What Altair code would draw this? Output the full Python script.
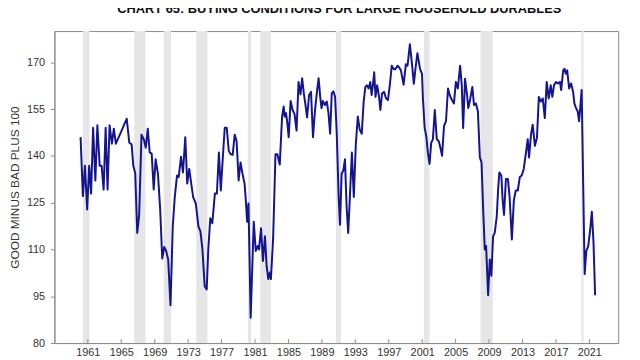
import altair as alt
import pandas as pd

title_text = "CHART 65: BUYING CONDITIONS FOR LARGE HOUSEHOLD DURABLES"
y_title = "GOOD MINUS BAD PLUS 100"

years = [
    1960.13, 1960.41, 1960.65, 1960.92, 1961.16, 1961.39, 1961.63, 1961.90, 1962.14, 1962.42,
    1962.65, 1962.89, 1963.13, 1963.36, 1963.60, 1963.88, 1964.11, 1964.35, 1964.90, 1965.65,
    1965.96, 1966.24, 1966.44, 1966.67, 1966.91, 1967.14, 1967.42, 1967.70, 1967.93, 1968.17,
    1968.40, 1968.64, 1968.88, 1969.11, 1969.39, 1969.66, 1969.90, 1970.14, 1970.37, 1970.61,
    1970.89, 1971.16, 1971.40, 1971.67, 1971.87, 1972.15, 1972.38, 1972.66, 1972.89, 1973.13,
    1973.37, 1973.60, 1973.92, 1974.23, 1974.47, 1974.71, 1974.98, 1975.22, 1975.41, 1975.65,
    1975.89, 1976.20, 1976.44, 1976.68, 1976.91, 1977.15, 1977.38, 1977.62, 1977.86, 1978.09,
    1978.33, 1978.57, 1978.80, 1979.04, 1979.27, 1979.51, 1979.75, 1979.90, 1980.06, 1980.22,
    1980.48, 1980.85, 1981.09, 1981.32, 1981.48, 1981.72, 1981.95, 1982.19, 1982.39, 1982.59,
    1982.78, 1982.90, 1983.17, 1983.45, 1983.68, 1983.96, 1984.24, 1984.43, 1984.55, 1984.71,
    1984.87, 1985.03, 1985.26, 1985.50, 1985.73, 1985.97, 1986.21, 1986.44, 1986.64, 1986.84,
    1987.03, 1987.23, 1987.47, 1987.70, 1987.94, 1988.18, 1988.41, 1988.61, 1988.81, 1988.96,
    1989.12, 1989.36, 1989.59, 1989.79, 1989.99, 1990.18, 1990.38, 1990.58, 1990.77, 1991.01,
    1991.17, 1991.36, 1991.56, 1991.76, 1991.96, 1992.15, 1992.35, 1992.59, 1992.82, 1993.06,
    1993.30, 1993.53, 1993.77, 1994.00, 1994.20, 1994.40, 1994.59, 1994.79, 1994.95, 1995.10,
    1995.26, 1995.42, 1995.61, 1995.81, 1996.00, 1996.20, 1996.44, 1996.68, 1996.91, 1997.15,
    1997.36, 1997.55, 1997.75, 1998.07, 1998.30, 1998.46, 1998.78, 1999.05, 1999.25, 1999.53,
    1999.80, 2000.00, 2000.20, 2000.43, 2000.74, 2000.98, 2001.09, 2001.30, 2001.49, 2001.68,
    2001.88, 2002.08, 2002.28, 2002.51, 2002.75, 2002.99, 2003.18, 2003.38, 2003.61, 2003.85,
    2004.09, 2004.32, 2004.56, 2004.80, 2005.03, 2005.27, 2005.54, 2005.74, 2005.90, 2006.13,
    2006.37, 2006.52, 2006.76, 2007.00, 2007.20, 2007.43, 2007.67, 2007.90, 2008.10, 2008.30,
    2008.49, 2008.65, 2008.89, 2009.09, 2009.28, 2009.48, 2009.68, 2009.92, 2010.08, 2010.23,
    2010.47, 2010.63, 2010.79, 2011.02, 2011.26, 2011.46, 2011.73, 2011.97, 2012.20, 2012.44,
    2012.68, 2012.91, 2013.15, 2013.39, 2013.63, 2013.79, 2014.02, 2014.22, 2014.49, 2014.73,
    2014.96, 2015.20, 2015.43, 2015.67, 2015.90, 2016.14, 2016.38, 2016.57, 2016.77, 2017.01,
    2017.24, 2017.48, 2017.63, 2017.87, 2018.03, 2018.19, 2018.35, 2018.58, 2018.82, 2019.06,
    2019.21, 2019.41, 2019.61, 2019.77, 2019.92, 2020.08, 2020.44, 2020.63, 2020.87, 2021.10,
    2021.30, 2021.50, 2021.69,
]
values = [
    146.0, 127.1, 136.8, 122.8, 136.8, 127.9, 149.0, 132.1, 149.8, 136.8,
    136.8, 129.2, 149.0, 129.2, 149.8, 143.9, 148.7, 143.9, 147.2, 151.9,
    144.2, 143.7, 136.8, 134.4, 115.3, 121.1, 146.8, 145.3, 142.6, 148.7,
    141.1, 140.7, 129.2, 138.9, 134.2, 122.6, 107.1, 110.8, 109.5, 106.8,
    92.1, 117.4, 126.8, 133.7, 133.2, 139.7, 134.7, 146.0, 131.1, 135.8,
    131.1, 126.8, 124.7, 117.4, 115.8, 110.0, 98.2, 97.2, 110.0, 120.0,
    118.4, 127.9, 127.9, 141.1, 128.9, 139.5, 149.0, 149.0, 141.6, 140.5,
    140.3, 146.8, 144.7, 132.1, 137.9, 134.2, 131.1, 125.8, 118.9, 124.7,
    88.1, 118.9, 109.5, 111.1, 110.0, 116.8, 106.3, 114.2, 104.7, 100.5,
    102.6, 100.5, 113.7, 140.5, 140.5, 137.2, 152.6, 155.8, 152.6, 153.7,
    150.5, 146.0, 157.6, 154.7, 153.4, 148.1, 163.7, 159.7, 164.9, 160.0,
    156.5, 152.3, 159.5, 160.5, 146.0, 154.7, 160.5, 164.9, 158.6, 155.3,
    157.6, 156.3, 157.4, 153.7, 147.1, 160.0, 160.7, 158.9, 147.9, 126.8,
    117.9, 134.2, 135.3, 138.9, 123.7, 115.3, 126.8, 141.1, 126.8, 143.7,
    152.6, 148.4, 147.1, 157.4, 162.1, 162.6, 161.6, 163.7, 159.5, 162.6,
    166.8, 158.9, 162.6, 159.5, 154.7, 160.0, 160.5, 158.4, 157.9, 163.2,
    168.9, 167.9, 167.7, 168.9, 168.1, 167.4, 162.8, 169.4, 168.9, 175.8,
    168.9, 163.1, 168.0, 172.9, 167.9, 166.3, 158.4, 148.9, 146.3, 141.1,
    137.4, 144.2, 145.3, 154.7, 145.3, 144.7, 142.6, 140.0, 149.5, 151.1,
    161.6, 159.3, 157.9, 156.8, 163.7, 161.6, 168.9, 162.6, 148.9, 164.7,
    159.5, 155.3, 158.4, 162.1, 156.3, 156.8, 154.2, 139.5, 137.9, 122.6,
    110.0, 111.1, 95.3, 106.8, 101.6, 114.2, 115.3, 120.5, 128.9, 134.7,
    133.7, 125.8, 121.1, 132.6, 132.6, 126.8, 113.2, 125.8, 128.9, 128.9,
    133.2, 133.7, 135.8, 140.5, 145.3, 139.5, 146.8, 150.0, 143.2, 145.8,
    158.9, 157.4, 158.4, 152.1, 163.7, 158.4, 162.6, 158.9, 162.6, 163.7,
    163.2, 163.7, 161.1, 167.4, 167.9, 166.3, 167.4, 161.6, 163.2, 160.5,
    156.8, 155.3, 154.2, 151.1, 155.8, 161.1, 102.1, 109.5, 111.1, 116.3,
    122.1, 112.1, 95.3,
]

rec_start = [1960.41, 1966.55, 1970.08, 1973.98, 1980.14, 1981.63, 1990.68, 2001.20, 2007.98, 2020.06]
rec_end = [1961.20, 1967.90, 1970.96, 1975.30, 1980.55, 1982.90, 1991.30, 2001.88, 2009.45, 2020.30]

x_ticks = list(range(1961, 2022, 4))
y_ticks = [80, 95, 110, 125, 140, 155, 170]

W, H = 571, 316

series = pd.DataFrame({"year": years, "value": values})
rec = pd.DataFrame({"start": rec_start, "end": rec_end})
ticks = pd.DataFrame({"year": x_ticks})
title_df = pd.DataFrame({"t": [title_text]})

xs = alt.Scale(domain=[1957.0, 2024.45], nice=False, zero=False)
ys = alt.Scale(domain=[80, 180], nice=False, zero=False)

x_axis = alt.Axis(values=x_ticks, format="d", ticks=False, grid=False, title=None,
                  labelFontSize=11, labelColor="#333333", domainColor="#8a8a8a",
                  labelPadding=4, labelOverlap=False, labelFlush=False)
y_axis = alt.Axis(values=y_ticks, grid=False, title=y_title, tickSize=4,
                  tickColor="#8a8a8a", domainColor="#8a8a8a", labelFontSize=11,
                  labelColor="#333333", labelPadding=6, titleFontSize=12,
                  titleFontWeight="normal", titleColor="#333333", titlePadding=5)

bands = alt.Chart(rec).mark_rect(color="#e6e6e9").encode(
    x=alt.X("start:Q", scale=xs, axis=x_axis),
    x2="end:Q",
    y=alt.value(0),
    y2=alt.value(H),
)

line = alt.Chart(series).mark_line(color="#141490", strokeWidth=2, strokeJoin="round").encode(
    x=alt.X("year:Q", scale=xs, axis=x_axis),
    y=alt.Y("value:Q", scale=ys, axis=y_axis),
)

tick_marks = alt.Chart(ticks).mark_rule(color="#8a8a8a", strokeWidth=1).encode(
    x=alt.X("year:Q", scale=xs, axis=x_axis),
    y=alt.value(H),
    y2=alt.value(H - 4),
)

title_mark = alt.Chart(title_df).mark_text(
    fontSize=13, fontWeight="bold", color="#111111", baseline="alphabetic", align="center"
).encode(
    x=alt.value(W / 2 + 3),
    y=alt.value(-18),
    text="t:N",
)

chart = alt.layer(bands, line, tick_marks, title_mark).properties(
    width=W,
    height=H,
    autosize=alt.AutoSizeParams(type="none"),
    padding={"left": 47, "top": 21, "right": 14, "bottom": 30},
).configure(font="Liberation Sans").configure_view(stroke="#8a8a8a", strokeWidth=1)

chart.save("out.html", embed_options={"renderer": "svg", "actions": False})
